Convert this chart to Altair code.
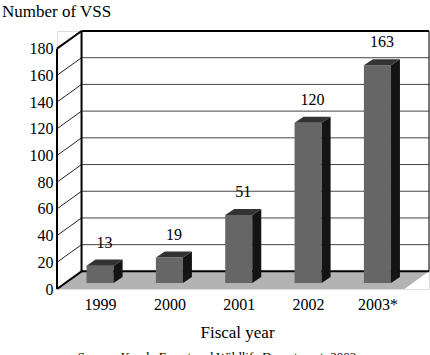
import json
import altair as alt
import pandas as pd

# ---- data ----
years = ["1999", "2000", "2001", "2002", "2003*"]
values = [13, 19, 51, 120, 163]
y_ticks = [0, 20, 40, 60, 80, 100, 120, 140, 160, 180]
title_text = "Number of VSS"
x_title = "Fiscal year"
source_text = "Source: Kerala Forest and Wildlife Department, 2003"

# ---- geometry / style constants ----
X_LEFT, X_RIGHT = -0.621, 4.744
FLOOR_FRONT_RIGHT = 4.39
DDX, DDY = 0.354, 13.2          # depth of the 3D frame (x units, value units)
YMAX = 180
BASE = 4.5                      # bar front face baseline
HALF = 0.195                    # half bar width
BDX, BDY = 0.13, 4.5            # bar depth
FONT = "Liberation Serif"

xs = alt.Scale(domain=[X_LEFT, X_RIGHT], nice=False, zero=False)
ys = alt.Scale(domain=[0, YMAX + DDY], nice=False, zero=False)

label_expr = json.dumps(years) + "[datum.value]"
XAXIS = alt.Axis(values=list(range(len(years))), labelExpr=label_expr,
                 domain=False, ticks=False, grid=False, labelPadding=7,
                 labelFontSize=16, labelFont=FONT, labelColor="black",
                 title=x_title, titleFont=FONT, titleFontSize=17,
                 titleFontWeight="normal", titleColor="black",
                 titleX=180, titleY=43, titleBaseline="middle")
YAXIS = alt.Axis(values=y_ticks, domain=False, ticks=False, grid=False,
                 labelPadding=4, labelFontSize=16, labelFont=FONT,
                 labelColor="black", title=None)


def X(f):
    return alt.X(f, type="quantitative", scale=xs, axis=XAXIS)


def Y(f):
    return alt.Y(f, type="quantitative", scale=ys, axis=YAXIS)


def X2(f):
    return alt.X2(f)


def Y2(f):
    return alt.Y2(f)


# floor
floor_df = pd.DataFrame([
    {"y": 0, "x": X_LEFT, "x2": FLOOR_FRONT_RIGHT},
    {"y": DDY, "x": X_LEFT + DDX, "x2": X_RIGHT},
])
floor = alt.Chart(floor_df).mark_area(orient="horizontal", color="#b3b3b3").encode(
    y=Y("y"), x=X("x"), x2=X2("x2")
)

# back-wall grid lines and side-wall diagonals
grid_vals = [v for v in y_ticks if 0 < v < YMAX]
back_grid_df = pd.DataFrame({"y": [v + DDY for v in grid_vals]})
back_grid_df["x"] = X_LEFT + DDX
back_grid_df["x2"] = X_RIGHT
back_grid = alt.Chart(back_grid_df).mark_rule(color="#444444", strokeWidth=1).encode(
    x=X("x"), x2=X2("x2"), y=Y("y")
)
side_df = pd.DataFrame({"y": grid_vals, "y2": [v + DDY for v in grid_vals]})
side_df["x"] = X_LEFT
side_df["x2"] = X_LEFT + DDX
side_grid = alt.Chart(side_df).mark_rule(color="#222222", strokeWidth=1).encode(
    x=X("x"), x2=X2("x2"), y=Y("y"), y2=Y2("y2")
)

# thin right edge of back wall
right_df = pd.DataFrame([{"x": X_RIGHT, "y": DDY, "y2": YMAX + DDY}])
right_edge = alt.Chart(right_df).mark_rule(color="black", strokeWidth=1).encode(
    x=X("x"), y=Y("y"), y2=Y2("y2")
)

# thick frame edges
bx = X_LEFT + DDX
frame_df = pd.DataFrame([
    {"x": X_LEFT, "y": 0, "x2": X_LEFT, "y2": YMAX},
    {"x": X_LEFT, "y": YMAX, "x2": bx, "y2": YMAX + DDY},
    {"x": bx, "y": YMAX + DDY, "x2": X_RIGHT, "y2": YMAX + DDY},
    {"x": bx, "y": DDY, "x2": bx, "y2": YMAX + DDY},
    {"x": X_LEFT, "y": 0, "x2": bx, "y2": DDY},
    {"x": bx, "y": DDY, "x2": X_RIGHT, "y2": DDY},
])
frame = alt.Chart(frame_df).mark_rule(color="black", strokeWidth=2).encode(
    x=X("x"), x2=X2("x2"), y=Y("y"), y2=Y2("y2")
)

# bars
front_rows, side_rows, top_rows, lab_rows = [], [], [], []
for i, (yr, v) in enumerate(zip(years, values)):
    front_rows.append({"year": yr, "x": i - HALF, "x2": i + HALF, "y": BASE, "y2": BASE + v})
    side_rows.append({"year": yr, "x": i + HALF, "y": BASE, "y2": BASE + v})
    side_rows.append({"year": yr, "x": i + HALF + BDX, "y": BASE + BDY, "y2": BASE + v + BDY})
    top_rows.append({"year": yr, "y": BASE + v, "x": i - HALF, "x2": i + HALF})
    top_rows.append({"year": yr, "y": BASE + v + BDY, "x": i - HALF + BDX, "x2": i + HALF + BDX})
    lab_rows.append({"year": yr, "x": i + BDX / 2, "y": BASE + v + BDY, "label": str(v)})

front = alt.Chart(pd.DataFrame(front_rows)).mark_rect(color="#666666").encode(
    x=X("x"), x2=X2("x2"), y=Y("y"), y2=Y2("y2"),
)
side = alt.Chart(pd.DataFrame(side_rows)).mark_area(orient="vertical", color="#141414").encode(
    x=X("x"), y=Y("y"), y2=Y2("y2"), detail="year:N"
)
top = alt.Chart(pd.DataFrame(top_rows)).mark_area(orient="horizontal", color="#333333").encode(
    y=Y("y"), x=X("x"), x2=X2("x2"), detail="year:N"
)
labels = alt.Chart(pd.DataFrame(lab_rows)).mark_text(
    baseline="bottom", dy=-9, fontSize=16, font=FONT, color="black"
).encode(x=X("x"), y=Y("y"), text="label:N")

source = alt.Chart(pd.DataFrame({"t": [source_text]})).mark_text(
    fontSize=13, font=FONT, color="black", baseline="alphabetic"
).encode(x=alt.value(160), y=alt.value(330), text="t:N")

chart = alt.layer(
    floor, back_grid, side_grid, right_edge, frame, front, side, top, labels, source,
).properties(
    width=372, height=258,
    title=alt.TitleParams(title_text, anchor="start", frame="group", dx=-55, fontSize=17,
                          font=FONT, fontWeight="normal", color="black", offset=9),
    autosize=alt.AutoSizeParams(type="none"),
    padding={"left": 57, "top": 31, "right": 1, "bottom": 66},
).configure_view(stroke=None).configure(background="white")

chart.save("out.html", embed_options={"renderer": "svg", "actions": False})
